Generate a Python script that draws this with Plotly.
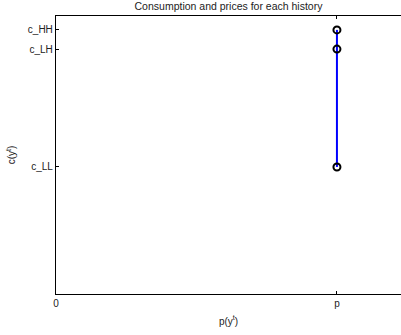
import plotly.graph_objects as go

# Price level and consumption levels for each history
price_vals = [0.0, 1.0]
price_labels = ["0", "p"]
cons_vals = [0.457, 0.881, 0.95]
cons_labels = ["c_LL", "c_LH", "c_HH"]

p = price_vals[1]
xs = [p, p, p]
ys = cons_vals

fig = go.Figure()
fig.add_trace(go.Scatter(x=xs, y=ys, mode="lines",
                         line=dict(color="#0000ff", width=2), showlegend=False))
fig.add_trace(go.Scatter(x=xs, y=ys, mode="markers",
                         marker=dict(symbol="circle-open", color="black", size=7,
                                     line=dict(width=2, color="black")),
                         showlegend=False))

font = dict(family="Liberation Sans, Arial, sans-serif", size=10, color="#222222")
fig.update_layout(
    width=401, height=335,
    margin=dict(l=56, r=0, t=16, b=41),
    paper_bgcolor="white", plot_bgcolor="white",
    font=font,
    title=dict(text="Consumption and prices for each history", x=0.5, xref="paper",
               xanchor="center", y=0.992, yanchor="top", font=dict(size=10.5)),
    xaxis=dict(range=[0, 1.228], tickvals=price_vals, ticktext=price_labels,
               showline=True, linecolor="black", linewidth=1.3, mirror="ticks",
               ticks="inside", ticklen=3, tickcolor="black",
               showgrid=False, zeroline=False,
               title=dict(text="p(y<sup>t</sup>)", standoff=9, font=dict(size=10))),
    yaxis=dict(range=[0, 1], tickvals=cons_vals, ticktext=cons_labels,
               showline=True, linecolor="black", linewidth=1.3, mirror=False,
               ticks="inside", ticklen=3, tickcolor="black",
               showgrid=False, zeroline=False,
               title=dict(text="c(y<sup>t</sup>)", standoff=10, font=dict(size=10))),
)

fig.write_html("out.html")
